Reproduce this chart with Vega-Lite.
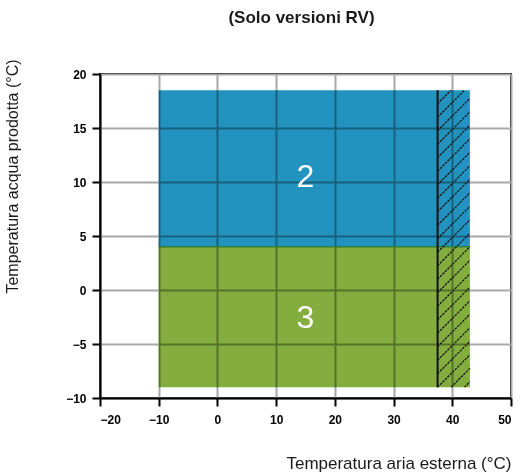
{
  "$schema": "https://vega.github.io/schema/vega-lite/v6.json",
  "width": 411,
  "height": 324,
  "autosize": "none",
  "padding": {"left": 100, "top": 74, "right": 17, "bottom": 78},
  "background": "white",
  "title": {"text": "(Solo versioni RV)", "font": "Liberation Sans Narrow, Liberation Sans", "fontSize": 17, "fontWeight": "bold", "color": "#1a1a1a", "anchor": "middle", "baseline": "bottom", "offset": 15, "dx": -4},
  "config": {
    "view": {"stroke": "black", "strokeWidth": 2},
    "axis": {"domainColor": "black", "domainWidth": 2, "tickColor": "black", "tickWidth": 2, "tickSize": 8, "gridColor": "#a8a8a8", "gridWidth": 2, "labelFont": "Liberation Sans", "labelFontWeight": "bold", "labelFontSize": 12, "labelColor": "black", "titleFont": "Liberation Sans Narrow, Liberation Sans", "titleFontWeight": "normal", "titleFontSize": 16, "titleColor": "#1a1a1a"}
  },
  "datasets": {
    "zones": [
      {"zone": "2", "x1": -10, "x2": 43, "y1": 4, "y2": 18.5},
      {"zone": "3", "x1": -10, "x2": 43, "y1": -9, "y2": 4}
    ],
    "labels": [
      {"zone": "2", "lx": 15, "ly": 10.5},
      {"zone": "3", "lx": 15, "ly": -2.6}
    ],
    "hatch": [
      {"hx1": 42.08, "hy1": -9, "hx2": 43, "hy2": -8.5},
      {"hx1": 39.79, "hy1": -9, "hx2": 43, "hy2": -7.25},
      {"hx1": 37.5, "hy1": -9, "hx2": 43, "hy2": -6},
      {"hx1": 37.5, "hy1": -7.75, "hx2": 43, "hy2": -4.75},
      {"hx1": 37.5, "hy1": -6.5, "hx2": 43, "hy2": -3.5},
      {"hx1": 37.5, "hy1": -5.25, "hx2": 43, "hy2": -2.25},
      {"hx1": 37.5, "hy1": -4, "hx2": 43, "hy2": -1},
      {"hx1": 37.5, "hy1": -2.75, "hx2": 43, "hy2": 0.25},
      {"hx1": 37.5, "hy1": -1.5, "hx2": 43, "hy2": 1.5},
      {"hx1": 37.5, "hy1": -0.25, "hx2": 43, "hy2": 2.75},
      {"hx1": 37.5, "hy1": 1, "hx2": 43, "hy2": 4},
      {"hx1": 37.5, "hy1": 2.25, "hx2": 43, "hy2": 5.25},
      {"hx1": 37.5, "hy1": 3.5, "hx2": 43, "hy2": 6.5},
      {"hx1": 37.5, "hy1": 4.75, "hx2": 43, "hy2": 7.75},
      {"hx1": 37.5, "hy1": 6, "hx2": 43, "hy2": 9},
      {"hx1": 37.5, "hy1": 7.25, "hx2": 43, "hy2": 10.25},
      {"hx1": 37.5, "hy1": 8.5, "hx2": 43, "hy2": 11.5},
      {"hx1": 37.5, "hy1": 9.75, "hx2": 43, "hy2": 12.75},
      {"hx1": 37.5, "hy1": 11, "hx2": 43, "hy2": 14},
      {"hx1": 37.5, "hy1": 12.25, "hx2": 43, "hy2": 15.25},
      {"hx1": 37.5, "hy1": 13.5, "hx2": 43, "hy2": 16.5},
      {"hx1": 37.5, "hy1": 14.75, "hx2": 43, "hy2": 17.75},
      {"hx1": 37.5, "hy1": 16, "hx2": 42.08, "hy2": 18.5},
      {"hx1": 37.5, "hy1": 17.25, "hx2": 39.79, "hy2": 18.5}
    ],
    "limit": [
      {"hx1": 37.5, "hy1": -9, "hx2": 37.5, "hy2": 18.5}
    ],
    "border": [
      {"hx1": -10, "hy1": 4, "hx2": 43, "hy2": 4}
    ]
  },
  "layer": [
    {
      "data": {"name": "zones"},
      "mark": {"type": "rect", "blend": "multiply"},
      "encoding": {
        "x": {"field": "x1", "type": "quantitative", "scale": {"domain": [-20, 50], "nice": false, "zero": false},
          "axis": {"values": [-20, -15, -10, -5, 0, 5, 10, 15, 20, 25, 30, 35, 40, 45, 50], "labelExpr": "datum.value % 10 === 0 ? datum.label : ''", "tickOpacity": {"condition": {"test": "datum.value % 10 !== 0", "value": 0}, "value": 1}, "labelPadding": 8, "labelFontSize": 12, "title": "Temperatura aria esterna (°C)", "titleFontSize": 17, "titleAnchor": "end", "titleAlign": "right", "titleX": 411, "titleY": 70, "titleBaseline": "alphabetic"}},
        "x2": {"field": "x2"},
        "y": {"field": "y1", "type": "quantitative", "scale": {"domain": [-10, 20], "nice": false, "zero": false},
          "axis": {"values": [-10, -5, 0, 5, 10, 15, 20], "labelPadding": 6, "title": "Temperatura acqua prodotta (°C)", "titleAngle": 270, "titleAlign": "center", "titleBaseline": "middle", "titleX": -88, "titleY": 102}},
        "y2": {"field": "y2"},
        "color": {"field": "zone", "type": "nominal", "scale": {"domain": ["2", "3"], "range": ["#2293be", "#83ad3f"]}, "legend": null}
      }
    },
    {
      "data": {"name": "border"},
      "mark": {"type": "rule", "color": "#2f7f3a", "strokeWidth": 1.5},
      "encoding": {
        "x": {"field": "hx1", "type": "quantitative"},
        "x2": {"field": "hx2"},
        "y": {"field": "hy1", "type": "quantitative"},
        "y2": {"field": "hy2"}
      }
    },
    {
      "data": {"name": "hatch"},
      "mark": {"type": "rule", "color": "#111111", "strokeWidth": 1.2, "strokeDash": [2.5, 1]},
      "encoding": {
        "x": {"field": "hx1", "type": "quantitative"},
        "x2": {"field": "hx2"},
        "y": {"field": "hy1", "type": "quantitative"},
        "y2": {"field": "hy2"}
      }
    },
    {
      "data": {"name": "limit"},
      "mark": {"type": "rule", "color": "#111111", "strokeWidth": 2},
      "encoding": {
        "x": {"field": "hx1", "type": "quantitative"},
        "x2": {"field": "hx2"},
        "y": {"field": "hy1", "type": "quantitative"},
        "y2": {"field": "hy2"}
      }
    },
    {
      "data": {"name": "labels"},
      "mark": {"type": "text", "color": "white", "font": "Liberation Sans Narrow, Liberation Sans", "fontSize": 32, "align": "center", "baseline": "middle"},
      "encoding": {
        "x": {"field": "lx", "type": "quantitative"},
        "y": {"field": "ly", "type": "quantitative"},
        "text": {"field": "zone", "type": "nominal"}
      }
    }
  ]
}
